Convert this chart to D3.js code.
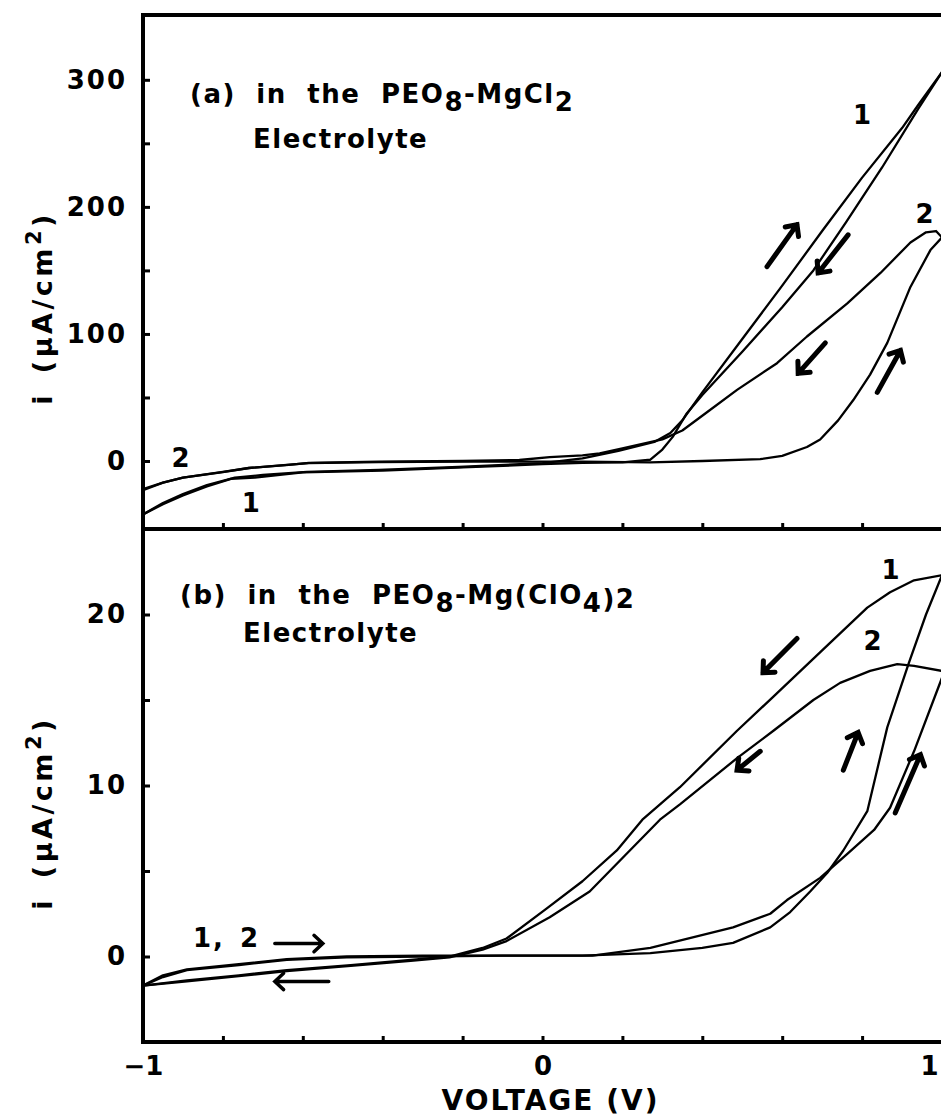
<!DOCTYPE html>
<html>
<head>
<meta charset="utf-8">
<script src="https://cdn.jsdelivr.net/npm/d3@7/dist/d3.min.js"></script>
<style>
  body { margin: 0; background: #fff; }
  svg text { font-family: "DejaVu Sans", sans-serif; font-weight: bold; fill: #000; }
</style>
</head>
<body>
<svg id="chart" width="941" height="1120"></svg>
<script>
// panel (a) PEO8-MgCl2 : [voltage (V), current (uA/cm2)]
const a1Forward = [[-1,-42],[-0.95,-33],[-0.9,-26],[-0.84,-19],[-0.77,-13],[-0.7,-11],[-0.59,-8.5],[-0.41,-7],[-0.21,-4.7],[0,-1.6],[0.1,2],[0.19,8],[0.28,15],[0.32,22],[0.35,32],[0.4,54],[0.5,96],[0.6,138],[0.7,181],[0.8,223],[0.9,262],[0.94,280],[1,306]];
const a1Reverse = [[1,306],[0.94,277],[0.85,231],[0.76,188],[0.678,150],[0.6,121],[0.5,86],[0.4,52],[0.36,37],[0.326,19],[0.3,9],[0.27,1],[0.2,-1],[0.1,-1.5],[0,-2.5],[-0.2,-5],[-0.4,-7.5],[-0.6,-9],[-0.72,-13],[-0.78,-14],[-0.84,-20],[-0.9,-27],[-0.95,-34],[-1,-42]];
const a2Forward = [[-1,-23],[-0.95,-17],[-0.9,-13],[-0.8,-8.7],[-0.735,-5.5],[-0.64,-3],[-0.585,-1.6],[-0.41,-0.8],[-0.2,-0.5],[0,-0.5],[0.1,-0.5],[0.27,-1],[0.4,0],[0.545,1.5],[0.6,4],[0.662,11],[0.695,17],[0.74,32],[0.778,48],[0.82,68],[0.863,93],[0.921,137],[0.971,166],[1,176]];
const a2Reverse = [[1,176],[0.985,181],[0.96,180],[0.921,172],[0.846,148],[0.763,124],[0.662,98],[0.587,77],[0.487,56],[0.41,38],[0.35,24],[0.3,17],[0.2,10],[0.143,6],[0.1,4.5],[0.018,3],[-0.058,0.8],[-0.2,0],[-0.41,-0.5],[-0.585,-1.4],[-0.635,-3],[-0.735,-5.5],[-0.8,-8.5],[-0.9,-13],[-0.95,-17],[-1,-22]];

// panel (b) PEO8-Mg(ClO4)2
const b1Forward = [[-1,-1.7],[-0.95,-1.2],[-0.89,-0.8],[-0.76,-0.5],[-0.64,-0.2],[-0.49,-0.05],[-0.3,0],[-0.1,0.05],[0.1,0.05],[0.27,0.2],[0.4,0.5],[0.477,0.8],[0.57,1.7],[0.62,2.6],[0.67,3.8],[0.713,4.9],[0.753,6.2],[0.813,8.5],[0.863,13.4],[0.916,17.1],[0.96,20],[1,22.3]];
const b1Reverse = [[1,22.3],[0.93,22],[0.87,21.3],[0.813,20.4],[0.7,17.9],[0.578,15.2],[0.487,13.2],[0.344,9.9],[0.25,8],[0.186,6.2],[0.1,4.4],[0.01,2.8],[-0.09,1.05],[-0.15,0.5],[-0.233,0],[-0.33,-0.2],[-0.48,-0.5],[-0.64,-0.8],[-0.76,-1.1],[-0.89,-1.4],[-1,-1.7]];
const b2Forward = [[-1,-1.7],[-0.95,-1.1],[-0.89,-0.75],[-0.76,-0.45],[-0.64,-0.15],[-0.49,0],[-0.3,0.05],[-0.1,0.05],[0.125,0.05],[0.27,0.5],[0.477,1.7],[0.57,2.5],[0.612,3.3],[0.695,4.6],[0.763,6],[0.83,7.4],[0.87,8.7],[0.93,12],[1,16.3]];
const b2Reverse = [[1,16.7],[0.93,17],[0.888,17.1],[0.82,16.7],[0.745,16],[0.678,15],[0.578,13.2],[0.487,11.6],[0.344,8.9],[0.294,8],[0.118,3.8],[0.018,2.3],[-0.09,0.9],[-0.15,0.4],[-0.233,-0.05],[-0.33,-0.25],[-0.48,-0.55],[-0.64,-0.85],[-0.76,-1.15],[-0.89,-1.45],[-1,-1.7]];

// axis ticks
const xLabelTicks = [-1, 0, 1];
const xMinorTicks = [-0.8, -0.6, -0.4, -0.2, 0, 0.2, 0.4, 0.6, 0.8];
const aMajorTicks = [0, 100, 200, 300];
const aMinorTicks = [50, 150, 250];
const bMajorTicks = [0, 10, 20];
const bMinorTicks = [5, 15];

// curve numbers [voltage, current, text]
const aCurveLabels = [[0.8, 265, "1"], [0.956, 187, "2"], [-0.906, -4.7, "2"], [-0.73, -40, "1"]];
const bCurveLabels = [[0.871, 22.1, "1"], [0.826, 17.9, "2"]];
// scan direction arrows [v1, i1, v2, i2] tail -> tip
const aArrows = [[0.562, 153, 0.637, 186], [0.765, 178, 0.69, 148], [0.708, 93, 0.64, 69], [0.838, 54, 0.896, 87]];
const bArrows = [[0.637, 18.6, 0.552, 16.6], [0.545, 12.0, 0.487, 10.9], [0.753, 10.9, 0.79, 13.1], [0.883, 8.4, 0.946, 11.8]];
const bScanArrows = [[-0.67, 0.76, -0.55, 0.76], [-0.535, -1.46, -0.67, -1.46]];

const svg = d3.select("#chart");
svg.append("rect").attr("width", 941).attr("height", 1120).attr("fill", "#fff");

const x = d3.scaleLinear().domain([-1, 1]).range([143, 942]);
const yA = d3.scaleLinear().domain([-53.5, 351]).range([529, 15]);
const yB = d3.scaleLinear().domain([-5, 25]).range([1042, 529]);

const FONT = 26;

function leftAxis(y, major, minor) {
  const g = svg.append("g").attr("transform", "translate(143,0)");
  g.call(d3.axisLeft(y).tickValues(major).tickSizeInner(-7).tickSizeOuter(0).tickPadding(16).tickFormat(d3.format("d")));
  g.append("g").call(d3.axisLeft(y).tickValues(minor).tickSizeInner(-7).tickSizeOuter(0).tickFormat(""));
  g.selectAll(".domain").remove();
  g.selectAll(".tick line").attr("stroke", "#000").attr("stroke-width", 3);
  g.selectAll(".tick text").attr("font-size", FONT).attr("letter-spacing", 2)
    .attr("font-family", null).attr("fill", "#000");
}

function bottomTicks(yPos, labels) {
  const g = svg.append("g").attr("transform", "translate(0," + yPos + ")");
  g.call(d3.axisBottom(x).tickValues(xMinorTicks).tickSizeInner(-6).tickSizeOuter(0).tickFormat(""));
  g.selectAll(".domain").remove();
  g.selectAll(".tick line").attr("stroke", "#000").attr("stroke-width", 3);
  if (labels) {
    const gl = svg.append("g").attr("transform", "translate(0," + yPos + ")");
    gl.call(d3.axisBottom(x).tickValues(xLabelTicks).tickSize(0).tickPadding(15).tickFormat(d3.format("d")));
    gl.selectAll(".domain").remove();
    gl.selectAll(".tick text").attr("font-size", FONT).attr("font-family", null).attr("fill", "#000")
      .attr("text-anchor", d => d === 1 ? "end" : "middle")
      .attr("dx", d => d === 1 ? -4 : 0);
  }
}

leftAxis(yA, aMajorTicks, aMinorTicks);
leftAxis(yB, bMajorTicks, bMinorTicks);
bottomTicks(529, false);
bottomTicks(1042, true);

// frame
const frame = svg.append("g").attr("stroke", "#000").attr("stroke-width", 4).attr("fill", "none");
frame.append("line").attr("x1", 143).attr("x2", 143).attr("y1", yA.range()[1] - 2).attr("y2", yB.range()[0] + 2);
frame.append("line").attr("x1", 141).attr("x2", 945).attr("y1", yA.range()[1]).attr("y2", yA.range()[1]);
frame.append("line").attr("x1", 141).attr("x2", 945).attr("y1", 529).attr("y2", 529);
frame.append("line").attr("x1", 141).attr("x2", 945).attr("y1", 1042).attr("y2", 1042);

// curves
function drawCurves(y, list) {
  const line = d3.line().x(d => x(d[0])).y(d => y(d[1]));
  svg.append("g").selectAll("path").data(list).join("path")
    .attr("d", line).attr("fill", "none").attr("stroke", "#000")
    .attr("stroke-width", 2.3).attr("stroke-linejoin", "round");
}
drawCurves(yA, [a1Forward, a1Reverse, a2Forward, a2Reverse]);
drawCurves(yB, [b1Forward, b1Reverse, b2Forward, b2Reverse]);

// arrows
function arrow(g, x1, y1, x2, y2, w, head) {
  const ang = Math.atan2(y2 - y1, x2 - x1);
  const b1 = ang + Math.PI - 0.75, b2 = ang + Math.PI + 0.75;
  const p = "M" + x1 + "," + y1 + "L" + x2 + "," + y2 +
    "M" + (x2 + head * Math.cos(b1)) + "," + (y2 + head * Math.sin(b1)) +
    "L" + x2 + "," + y2 +
    "L" + (x2 + head * Math.cos(b2)) + "," + (y2 + head * Math.sin(b2));
  g.append("path").attr("d", p).attr("fill", "none").attr("stroke", "#000")
    .attr("stroke-width", w).attr("stroke-linecap", "round").attr("stroke-linejoin", "miter");
}
const ga = svg.append("g");
aArrows.forEach(a => arrow(ga, x(a[0]), yA(a[1]), x(a[2]), yA(a[3]), 5, 12));
bArrows.forEach(a => arrow(ga, x(a[0]), yB(a[1]), x(a[2]), yB(a[3]), 5, 12));
bScanArrows.forEach(a => arrow(ga, x(a[0]), yB(a[1]), x(a[2]), yB(a[3]), 3.5, 12));

// curve numbers
function curveLabels(y, list) {
  svg.append("g").selectAll("text").data(list).join("text")
    .attr("x", d => x(d[0])).attr("y", d => y(d[1]))
    .attr("text-anchor", "middle").attr("font-size", FONT).text(d => d[2]);
}
curveLabels(yA, aCurveLabels);
curveLabels(yB, bCurveLabels);
svg.append("text").attr("x", x(-0.875)).attr("y", yB(0.53)).attr("font-size", FONT)
  .attr("letter-spacing", 2).attr("word-spacing", 4).text("1, 2");

// panel titles
function title(px, py, parts) {
  const t = svg.append("text").attr("x", px).attr("y", py).attr("font-size", FONT)
    .attr("letter-spacing", 1.5).attr("word-spacing", 10);
  parts.forEach(p => {
    t.append("tspan").attr("dy", p[1]).text(p[0]);
  });
}
title(190, 103, [["(a) in the PEO", 0], ["8", 8], ["-MgCl", -8], ["2", 8]]);
title(253, 148, [["Electrolyte", 0]]);
title(180, 604, [["(b) in the PEO", 0], ["8", 8], ["-Mg(ClO", -8], ["4", 8], [")2", -4]]);
title(243, 642, [["Electrolyte", 0]]);

// axis titles
function yTitle(cy) {
  const t = svg.append("text").attr("transform", "translate(52," + cy + ") rotate(-90)")
    .attr("text-anchor", "middle").attr("font-size", 27).attr("letter-spacing", 3.5)
    .attr("word-spacing", 6);
  t.append("tspan").text("i (\u00b5A/cm");
  t.append("tspan").attr("dy", -11).attr("font-size", 21).text("2");
  t.append("tspan").attr("dy", 11).text(")");
}
yTitle(308);
yTitle(813);

svg.append("text").attr("x", x(0) + 8).attr("y", 1110).attr("text-anchor", "middle")
  .attr("font-size", 28).attr("letter-spacing", 2).text("VOLTAGE (V)");
</script>
</body>
</html>
